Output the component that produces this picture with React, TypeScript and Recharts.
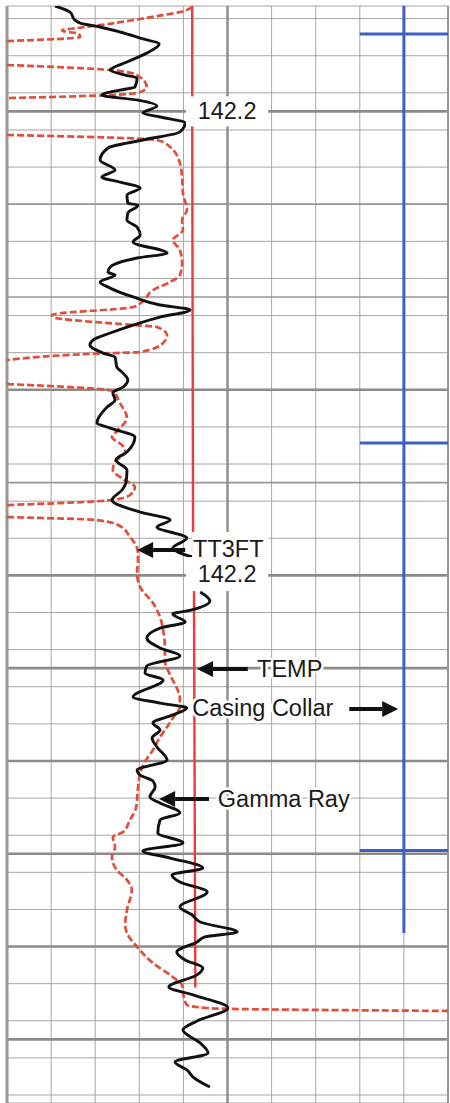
import React from 'react';
import { LineChart, Line, XAxis, YAxis, CartesianGrid, ReferenceLine, ReferenceDot } from 'recharts';

// depth is counted in chart rows (one per thin grid line), readings in chart divisions (0-10)
const gammaDepth = [
  0.32, 0.65, 1.08, 1.24, 1.45, 1.72, 2.05, 2.37, 2.86, 3.34,
  3.77, 4.04, 4.2, 4.69, 4.85, 5.12, 5.39, 5.71, 6.09, 6.3,
  6.63, 7.11, 7.54, 7.97, 8.62, 9.16, 9.54, 9.81, 10.13, 10.51,
  10.94, 11.05, 11.48, 11.85, 12.23, 12.66, 13.04, 13.63, 13.9, 14.39,
  14.66, 14.82, 15.19, 15.52, 16.0, 16.43, 16.7, 17.08, 17.51, 17.94,
  18.32, 18.59, 19.02, 19.24, 19.77, 20.1, 20.47, 20.85, 21.17, 21.55,
  21.93, 22.79, 23.06, 23.55, 24.35, 24.78, 25.32, 25.97, 26.4, 26.94,
  27.59, 28.02, 28.39, 28.99, 29.53, 30.01, 31.0,
  31.9, 32.38, 32.87, 33.08, 33.51, 33.84, 34.38, 34.91, 35.34, 35.88,
  36.26, 36.64, 37.55, 37.88, 38.15, 38.52, 38.95, 39.33, 39.76, 40.25,
  40.95, 41.49, 41.76, 42.08, 42.4, 42.94, 43.27, 43.8, 44.18, 44.88,
  45.42, 45.85, 46.23, 46.77, 47.14, 47.52, 48.06, 48.87, 49.3, 49.68,
  50.22, 50.48, 50.75, 51.29, 51.72, 52.16, 52.53, 53.18, 53.61, 54.31,
  55.01, 55.5, 56.2, 56.74, 57.22, 57.65, 58.03, 58.57,
];
const gammaRay = [
  1.09, 1.43, 1.54, 1.66, 2.11, 2.56, 3.02, 3.45, 3.17, 2.72,
  2.34, 2.68, 2.95, 2.9, 2.56, 2.15, 2.97, 3.4, 3.08, 3.47,
  4.04, 3.92, 3.08, 2.29, 2.11, 2.45, 2.15, 2.56, 3.02, 2.72,
  2.74, 2.97, 2.74, 2.72, 2.95, 3.02, 2.86, 3.63, 2.95, 2.34,
  2.29, 2.45, 2.11, 2.34, 2.86, 3.47, 4.15, 3.47, 2.86, 2.34,
  1.95, 1.88, 2.18, 2.45, 2.49, 2.63, 2.74, 2.63, 2.4, 2.45,
  2.27, 2.04, 2.34, 2.9, 2.72, 2.47, 2.72, 2.7, 2.61, 2.38,
  3.02, 3.7, 3.4, 4.08, 3.76, 4.2, null,
  4.38, 4.6, 4.17, 3.76, 4.04, 3.47, 3.17, 3.47, 3.92, 3.17,
  3.13, 3.54, 2.86, 3.47, 4.08, 3.76, 3.31, 3.47, 3.29, 3.4,
  3.63, 2.95, 3.02, 3.31, 3.36, 3.24, 3.47, 3.92, 3.47, 3.42,
  3.99, 3.08, 3.7, 4.44, 3.74, 3.92, 4.54, 3.92, 4.2, 4.38,
  5.22, 4.49, 4.31, 3.85, 4.04, 4.44, 4.31, 3.67, 4.22, 5.01,
  4.31, 3.99, 4.38, 4.56, 3.81, 4.08, 4.22, 4.6,
];

const tt3Depth = [
  0.38, 0.65, 0.81, 1.08, 1.35, 1.51, 1.62, 1.72, 1.78, 1.99, 2.21,
  2.8,
  3.5, 3.77, 4.04, 4.69, 4.96, 5.12, 5.28,
  6.3,
  7.27, 7.54, 7.92, 8.78, 9.54, 10.4, 11.31, 11.85, 12.39, 12.93,
  13.47, 14.17, 14.82, 15.19, 15.63, 16.27, 16.54, 16.97, 17.08, 17.51,
  17.62, 18.05, 18.48, 18.97, 19.02, 19.4,
  20.0,
  20.69, 21.07, 21.71, 22.52, 23.17, 23.55, 23.98, 24.35, 24.89, 25.32,
  25.81, 26.24, 26.67, 26.94, 27.21,
  27.5,
  27.86, 28.02, 28.34, 28.93, 29.53, 29.9, 30.17, 30.87, 31.63, 32.49,
  33.24, 33.94, 34.86, 35.56, 36.37, 37.07, 37.61, 38.09, 38.69, 39.17,
  39.71, 40.41, 41.11, 41.65, 42.46, 43.48, 44.18, 44.83, 45.1, 45.64,
  46.17, 46.88, 47.41, 47.95, 49.03, 49.84, 50.27, 51.02, 51.89, 52.64,
  53.07, 53.72, 54.15, 54.31, 54.36, 54.47,
];
const tt3ft = [
  4.2, 3.92, 3.54, 2.86, 2.11, 1.59, 1.25, 1.36, 1.61, 1.66, 0,
  null,
  0, 2.34, 2.95, 3.17, 3.02, 2.34, 0,
  null,
  0, 3.4, 3.7, 3.92, 3.97, 3.99, 4.08, 3.97, 3.99, 3.76,
  3.92, 3.97, 3.92, 3.7, 3.31, 3.06, 2.86, 1.02, 1.04, 2.86,
  3.4, 3.63, 3.54, 3.02, 2.4, 0,
  null,
  0, 2.4, 2.56, 2.72, 2.52, 2.38, 2.61, 2.68, 2.45, 2.4,
  2.63, 2.9, 2.79, 2.38, 0,
  null,
  0, 2.04, 2.56, 2.79, 2.95, 2.97, 2.97, 2.95, 3.02, 3.31,
  3.47, 3.54, 3.58, 3.58, 3.7, 3.85, 3.92, 3.92, 3.76, 3.63,
  3.47, 3.31, 3.11, 3.02, 2.97, 2.93, 2.79, 2.63, 2.4, 2.45,
  2.38, 2.49, 2.72, 2.83, 2.72, 2.68, 2.72, 2.95, 3.31, 3.76,
  3.97, 4.01, 4.08, 4.54, 5.06, 10,
];

const tempDepth = [0.32, 5.23, 5.9, 6.73, 30.0, 31.0, 31.8, 53.2];
const temp = [4.2, 4.2, null, 4.2, 4.22, null, 4.24, 4.27];

const collarDepth = [0.32, 1.83, 1.83, 1.83, 1.83, 23.87, 23.87, 23.87, 23.87, 45.82, 45.82, 45.82, 45.82, 50.27];
const collar = [9, 9, 8, 10, 9, 9, 8, 10, 9, 9, 8, 10, 9, 9];

const xTicks = [0, 1, 2, 3, 4, 5, 6, 7, 8, 9, 10];
const yTicks = Array.from({ length: 59 }, (_, i) => i + 1);
const majorRows = [6, 21, 31, 36, 41, 46, 51, 56];
const midRows = [11, 16, 26];

// annotations: text anchor point plus optional white backing box (px)
const labels = [
  { text: 'TT3FT', x: 4.22, d: 29.58, anchor: 'start', box: [-1, -17, 76, 25] },
  { text: '142.2', x: 4.99, d: 6.0, anchor: 'middle', box: [-41, -15, 82, 30] },
  { text: '142.2', x: 4.99, d: 30.93, anchor: 'middle', box: [-41, -17, 82, 34] },
  { text: 'TEMP', x: 5.67, d: 36.04, anchor: 'start', box: null },
  { text: 'Casing Collar', x: 4.2, d: 38.15, anchor: 'start', box: null },
  { text: 'Gamma Ray', x: 4.78, d: 43.05, anchor: 'start', box: null },
];
const arrows = [
  { d: 29.63, tail: 4.04, tip: 2.95 },
  { d: 36.04, tail: 5.46, tip: 4.31 },
  { d: 38.2, tail: 7.76, tip: 8.87 },
  { d: 43.05, tail: 4.58, tip: 3.45 },
];

// split a reading list into unbroken runs at the nulls
const segments = (depth: number[], vals: (number | null)[]) => {
  const out: { d: number; v: number }[][] = [];
  let cur: { d: number; v: number }[] = [];
  depth.forEach((d, i) => {
    const v = vals[i];
    if (v == null) {
      if (cur.length) out.push(cur);
      cur = [];
    } else cur.push({ d, v });
  });
  if (cur.length) out.push(cur);
  return out;
};

const FONT = '"Liberation Sans", Arial, sans-serif';

const Arrow = (p: any) => {
  const { x1, y1, x2, y2 } = p;
  const dir = Math.sign(x2 - x1);
  const base = x2 - dir * 16;
  return (
    <g>
      <line x1={x1} y1={y1} x2={base} y2={y2} stroke="#111" strokeWidth={4} />
      <polygon points={`${x2},${y2} ${base},${y2 - 8} ${base},${y2 + 8}`} fill="#111" />
    </g>
  );
};

const labelShape = (l: (typeof labels)[number]) => (p: any) => (
  <g>
    {l.box && <rect x={p.cx + l.box[0]} y={p.cy + l.box[1]} width={l.box[2]} height={l.box[3]} fill="#fff" />}
    <text
      x={p.cx}
      y={p.cy}
      textAnchor={l.anchor as any}
      dominantBaseline="central"
      fontFamily={FONT}
      fontSize={23.5}
      fill="#1a1a1a"
      stroke="#fff"
      strokeWidth={l.box ? 0 : 5}
      strokeLinejoin="round"
      paintOrder="stroke"
    >
      {l.text}
    </text>
  </g>
);

export default function App() {
  return (
    <div style={{ position: 'absolute', left: 0, top: 0, background: '#fff' }}>
      <LineChart width={450} height={1103} layout="vertical" margin={{ top: 6, right: 2, bottom: 0, left: 7 }}>
        <XAxis type="number" dataKey="v" domain={[0, 10]} ticks={xTicks} allowDataOverflow hide />
        <YAxis type="number" dataKey="d" domain={[0.32, 59.43]} ticks={yTicks} allowDataOverflow hide />
        <CartesianGrid stroke="#a8a5a2" strokeWidth={1} />
        {midRows.map((r) => (
          <ReferenceLine key={`m${r}`} y={r} stroke="#9a9692" strokeWidth={1.7} />
        ))}
        {majorRows.map((r) => (
          <ReferenceLine key={`M${r}`} y={r} stroke="#8e8a86" strokeWidth={2.6} />
        ))}
        <ReferenceLine x={5} stroke="#8e8a86" strokeWidth={2.4} />
        <ReferenceLine x={0} stroke="#9a9692" strokeWidth={3} />
        <ReferenceLine x={10} stroke="#9a9692" strokeWidth={2} />
        <Line data={segments(collarDepth, collar)[0]} dataKey="v" stroke="#3b5fc2" strokeWidth={3} dot={false} isAnimationActive={false} />
        {segments(tempDepth, temp).map((s, i) => (
          <Line key={`t${i}`} data={s} dataKey="v" stroke="#f03a3a" strokeWidth={2.4} dot={false} isAnimationActive={false} />
        ))}
        {segments(tt3Depth, tt3ft).map((s, i) => (
          <Line key={`r${i}`} data={s} dataKey="v" type="monotoneY" stroke="#df4f3c" strokeWidth={2.7} strokeDasharray="7 3" dot={false} isAnimationActive={false} />
        ))}
        {segments(gammaDepth, gammaRay).map((s, i) => (
          <Line key={`g${i}`} data={s} dataKey="v" type="monotoneY" stroke="#111" strokeWidth={2.9} dot={false} isAnimationActive={false} />
        ))}
        {arrows.map((a, i) => (
          <ReferenceLine key={`a${i}`} segment={[{ x: a.tail, y: a.d }, { x: a.tip, y: a.d }]} shape={Arrow} />
        ))}
        {labels.map((l, i) => (
          <ReferenceDot key={`l${i}`} x={l.x} y={l.d} shape={labelShape(l)} />
        ))}
      </LineChart>
    </div>
  );
}
